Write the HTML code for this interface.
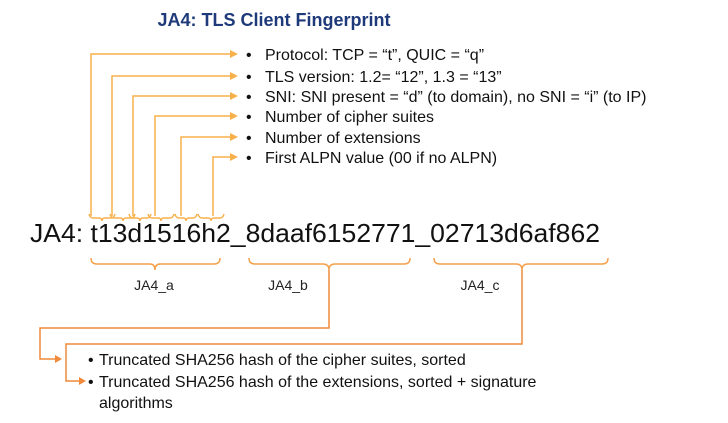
<!DOCTYPE html>
<html><head><meta charset="utf-8"><style>
html,body{margin:0;padding:0;background:#fff;}
svg{display:block;font-family:"Liberation Sans",sans-serif;}
</style></head><body>
<svg width="728" height="423" viewBox="0 0 728 423" xmlns="http://www.w3.org/2000/svg">
<text x="274" y="26" text-anchor="middle" font-size="18" font-weight="bold" fill="#1f3a7a">JA4: TLS Client Fingerprint</text>
<g fill="none" stroke="#f7b04a" stroke-width="1.5">
<path d="M91 216 V54 H236"/>
<path d="M112 216 V76 H236"/>
<path d="M133 216 V96 H236"/>
<path d="M155 216 V116 H236"/>
<path d="M181 216 V137 H236"/>
<path d="M213 216 V157 H236"/>
</g>
<g fill="none" stroke="#f7b04a" stroke-width="1.5">
<path d="M89 214 q1 4 4 4 h6 q3 0 3 3 q0 -3 3 -3 h6 q3 0 4 -4"/>
<path d="M110 214 q1 4 4 4 h6 q3 0 3 3 q0 -3 3 -3 h5 q3 0 4 -4"/>
<path d="M129 214 q1 4 4 4 h4 q3 0 3 3 q0 -3 3 -3 h4 q3 0 4 -4"/>
<path d="M148 214 q1 4 4 4 h6 q3 0 3 3 q0 -3 3 -3 h6 q3 0 4 -4"/>
<path d="M175 214 q1 4 4 4 h4 q3 0 3 3 q0 -3 3 -3 h4 q3 0 4 -4"/>
<path d="M198 214 q1 4 4 4 h6 q3 0 3 3 q0 -3 3 -3 h6 q3 0 4 -4"/>
</g>
<g fill="#f7b04a">
<path d="M238 54 l-8 -4 v8z"/><path d="M238 76 l-8 -4 v8z"/><path d="M238 96 l-8 -4 v8z"/>
<path d="M238 116 l-8 -4 v8z"/><path d="M238 137 l-8 -4 v8z"/><path d="M238 157 l-8 -4 v8z"/>
</g>
<g font-size="16" fill="#111">
<text x="246" y="60">•</text><text x="265" y="60">Protocol: TCP = “t”, QUIC = “q”</text>
<text x="246" y="82">•</text><text x="265" y="82">TLS version: 1.2= “12”, 1.3 = “13”</text>
<text x="246" y="102">•</text><text x="265" y="102">SNI: SNI present = “d” (to domain), no SNI = “i” (to IP)</text>
<text x="246" y="122">•</text><text x="265" y="122">Number of cipher suites</text>
<text x="246" y="143">•</text><text x="265" y="143">Number of extensions</text>
<text x="246" y="163">•</text><text x="265" y="163">First ALPN value (00 if no ALPN)</text>
</g>
<text x="30" y="242" font-size="26" fill="#111" textLength="570" lengthAdjust="spacingAndGlyphs">JA4: t13d1516h2_8daaf6152771_02713d6af862</text>
<g fill="none" stroke="#f4a04a" stroke-width="1.5">
<path d="M91 258 q0 6 6 6 h53 q5 0 5 6 q0 -6 5 -6 h54 q6 0 6 -6"/>
<path d="M249 258 q0 6 6 6 h68 q6 0 6 6 q0 -6 6 -6 h69 q6 0 6 -6"/>
<path d="M434 258 q0 6 6 6 h76 q6 0 6 6 q0 -6 6 -6 h74 q6 0 6 -6"/>
</g>
<g font-size="14" fill="#222" text-anchor="middle">
<text x="154" y="290">JA4_a</text><text x="288" y="290">JA4_b</text><text x="480" y="290">JA4_c</text>
</g>
<g fill="none" stroke="#f08a3a" stroke-width="1.5">
<path d="M329 270 V328 H40 V359 H58"/>
<path d="M522 270 V344 H66 V381 H82"/>
</g>
<g fill="#f08a3a">
<path d="M62 359 l-7 -4 v8z"/><path d="M86 381 l-7 -4 v8z"/>
</g>
<g font-size="16" fill="#111">
<text x="88" y="365">•</text><text x="99" y="365">Truncated SHA256 hash of the cipher suites, sorted</text>
<text x="88" y="387">•</text><text x="99" y="387">Truncated SHA256 hash of the extensions, sorted + signature</text>
<text x="99" y="408">algorithms</text>
</g>
</svg>
</body></html>
